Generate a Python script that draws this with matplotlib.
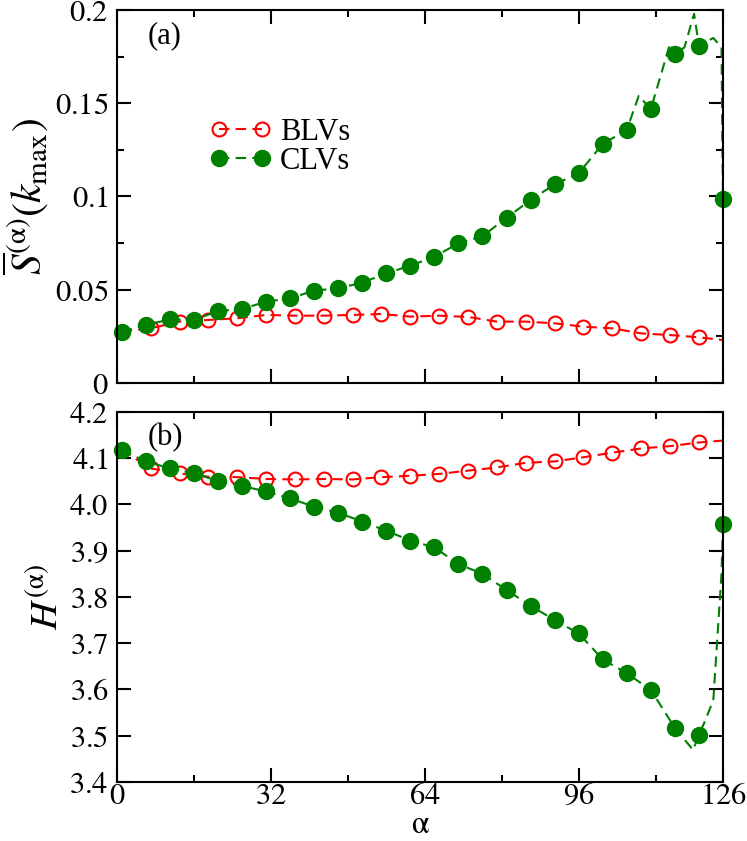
import matplotlib
matplotlib.use("Agg")
import matplotlib.pyplot as plt
from matplotlib.ticker import MultipleLocator, FixedLocator

plt.rcParams['font.family'] = ['Liberation Serif', 'DejaVu Serif']
plt.rcParams['mathtext.fontset'] = 'stix'

# marker positions (alpha)
clv_x = [1, 6, 11, 16, 21, 26, 31, 36, 41, 46, 51, 56, 61, 66, 71, 76, 81, 86,
         91, 96, 101, 106, 111, 116, 121, 126]
blv_x = [1, 7, 13, 19, 25, 31, 37, 43, 49, 55, 61, 67, 73, 79, 85, 91, 97, 103,
         109, 115, 121]

# panel (a): S(k_max)
clv_s = [0.0275, 0.0311, 0.0341, 0.0338, 0.0386, 0.0397, 0.0436, 0.0454, 0.0495,
         0.0508, 0.0538, 0.0588, 0.0629, 0.0677, 0.0749, 0.0787, 0.0886, 0.0981,
         0.1065, 0.1124, 0.1282, 0.1357, 0.1468, 0.1762, 0.1809, 0.0987]
blv_s = [0.0275, 0.0293, 0.0329, 0.0338, 0.0347, 0.0365, 0.0361, 0.0361, 0.0365,
         0.0370, 0.0356, 0.0361, 0.0354, 0.0329, 0.0329, 0.0320, 0.0302, 0.0293,
         0.0266, 0.0257, 0.0245]

# panel (b): H
clv_h = [4.118, 4.093, 4.078, 4.067, 4.051, 4.040, 4.028, 4.013, 3.995, 3.982,
         3.963, 3.943, 3.922, 3.907, 3.871, 3.850, 3.815, 3.781, 3.750, 3.721,
         3.665, 3.635, 3.599, 3.517, 3.502, 3.958]
blv_h = [4.118, 4.078, 4.067, 4.060, 4.059, 4.055, 4.054, 4.055, 4.054, 4.059,
         4.062, 4.066, 4.073, 4.080, 4.090, 4.093, 4.102, 4.112, 4.121, 4.126,
         4.134]

# dashed lines (all alpha, incl. wiggles between markers)
clv_line_x = [1, 6, 11, 16, 21, 26, 31, 36, 41, 46, 51, 56, 61, 66, 71, 76, 81,
              86, 91, 96, 101, 106, 108.5, 111, 115, 116, 118, 120, 121, 124,
              125.7, 126]
clv_line_s = [0.0275, 0.0311, 0.0341, 0.0338, 0.0386, 0.0397, 0.0436, 0.0454,
              0.0495, 0.0508, 0.0538, 0.0588, 0.0629, 0.0677, 0.0749, 0.0787,
              0.0886, 0.0981, 0.1065, 0.1124, 0.1282, 0.1357, 0.1540, 0.1468,
              0.1820, 0.1762, 0.1800, 0.1980, 0.1809, 0.1850, 0.1800, 0.0987]
clv_hline_x = [1, 6, 11, 16, 21, 26, 31, 36, 41, 46, 51, 56, 61, 66, 71, 76, 81,
               86, 91, 96, 101, 106, 111, 116, 119.8, 121, 122.2, 124, 125.7, 126]
clv_hline_h = [4.118, 4.093, 4.078, 4.067, 4.051, 4.040, 4.028, 4.013, 3.995,
               3.982, 3.963, 3.943, 3.922, 3.907, 3.871, 3.850, 3.815, 3.781,
               3.750, 3.721, 3.665, 3.635, 3.599, 3.517, 3.469, 3.502, 3.530,
               3.577, 3.850, 3.958]
blv_line_x = blv_x + [126]
blv_line_s = blv_s + [0.0230]
blv_line_h = blv_h + [4.138]

x_ticks = [0, 32, 64, 96, 126]
s_ticks = [0, 0.05, 0.1, 0.15, 0.2]
s_labels = ['0', '0.05', '0.1', '0.15', '0.2']
h_ticks = [3.4, 3.5, 3.6, 3.7, 3.8, 3.9, 4.0, 4.1, 4.2]
h_labels = ['3.4', '3.5', '3.6', '3.7', '3.8', '3.9', '4.0', '4.1', '4.2']

red = '#ff0000'
green = '#008000'
dash = (5, 3)


def rm(s):
    return r'$\mathrm{' + s + '}$'


fig = plt.figure(figsize=(7.47, 8.41), dpi=100)
ax1 = fig.add_axes([0.1566, 0.5446, 0.8112, 0.4435])
ax2 = fig.add_axes([0.1566, 0.0702, 0.8112, 0.4400])

for ax, bs, bl, cl_x, cl_y, cs in [
        (ax1, blv_s, blv_line_s, clv_line_x, clv_line_s, clv_s),
        (ax2, blv_h, blv_line_h, clv_hline_x, clv_hline_h, clv_h)]:
    ax.plot(blv_line_x, bl, color=red, lw=1.5, dashes=dash)
    ax.plot(blv_x, bs, 'o', ms=10, mfc='none', mec=red, mew=1.5, clip_on=False)
    ax.plot(cl_x, cl_y, color=green, lw=1.5, dashes=dash)
    ax.plot(clv_x, cs, 'o', ms=11.5, color=green, clip_on=False, zorder=3)
    ax.set_xlim(0, 126)
    ax.xaxis.set_major_locator(FixedLocator(x_ticks))
    ax.xaxis.set_minor_locator(FixedLocator([16, 48, 80, 112]))
    ax.tick_params(which='both', direction='in', top=True, right=True,
                   width=1.5, labelsize=22, pad=6)
    ax.tick_params(which='major', length=10)
    ax.tick_params(which='minor', length=5)
    for sp in ax.spines.values():
        sp.set_linewidth(1.5)
        sp.set_zorder(4)

# legend proxies
h1, = ax1.plot([], [], color=red, lw=1.5, dashes=dash, marker='o', ms=10,
               mfc='none', mec=red, mew=1.5)
h2, = ax1.plot([], [], color=green, lw=1.5, dashes=dash, marker='o', ms=11.5)
ax1.legend([h1, h2], ['BLVs', 'CLVs'], loc='upper left',
           bbox_to_anchor=(0.153, 0.71), frameon=False, fontsize=22,
           numpoints=2, handlelength=2.0, handletextpad=0.3,
           labelspacing=0.0, borderpad=0, borderaxespad=0)

ax1.set_ylim(0, 0.2)
ax1.set_yticks(s_ticks)
ax1.set_yticklabels([rm(s) for s in s_labels])
ax1.yaxis.set_minor_locator(MultipleLocator(0.025))
ax1.tick_params(axis='x', labelbottom=False)
ax1.set_ylabel(r'$\overline{S}^{(\mathrm{\alpha})}(k_{\mathrm{max}})$',
               fontsize=30, labelpad=4)
ax1.text(0.05, 0.93, '(a)', transform=ax1.transAxes, fontsize=22,
         va='center', ha='left')

ax2.set_ylim(3.4, 4.2)
ax2.set_yticks(h_ticks)
ax2.set_yticklabels([rm(s) for s in h_labels])
ax2.set_xticklabels([rm(str(t)) for t in x_ticks])
ax2.tick_params(axis='x', pad=0)
ax2.set_ylabel(r'$H^{(\mathrm{\alpha})}$', fontsize=28, labelpad=2)
ax2.text(0.05, 0.93, '(b)', transform=ax2.transAxes, fontsize=22,
         va='center', ha='left')

# x label placed by hand so it stays inside the figure
fig.text(0.1566 + 0.8112 * 0.5, 0.0015, r'$\mathrm{\alpha}$', fontsize=23,
         ha='center', va='bottom')

fig.savefig('out.png', dpi=100)
